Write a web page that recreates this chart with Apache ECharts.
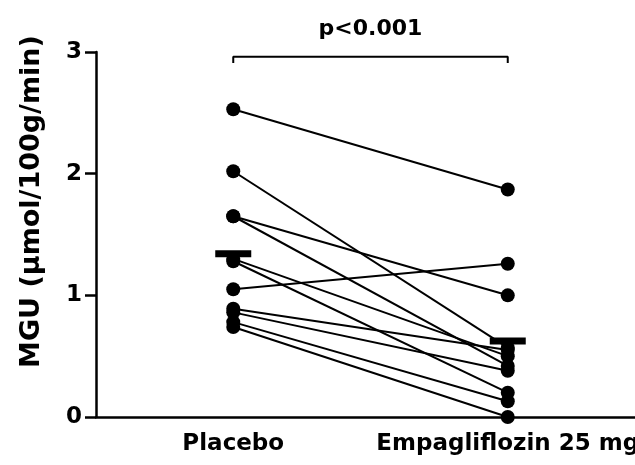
<!DOCTYPE html>
<html>
<head>
<meta charset="utf-8">
<script src="https://cdn.jsdelivr.net/npm/echarts@6/dist/echarts.min.js"></script>
<style>
  html, body { margin: 0; padding: 0; background: #fff; overflow: hidden; }
  #chart { width: 645px; height: 465px; }
</style>
</head>
<body>
<div id="chart"></div>
<script>
// Treatment groups (x categories)
const groups = ['Placebo', 'Empagliflozin 25 mg'];
// Paired MGU values per subject (µmol/100g/min)
const placebo       = [2.53, 2.02, 1.65, 1.65, 1.30, 1.28, 1.05, 0.89, 0.86, 0.78, 0.74];
const empagliflozin = [1.87, 0.57, 1.00, 0.42, 0.50, 0.20, 1.26, 0.55, 0.38, 0.13, 0.00];
// Y axis ticks
const yTicks = [0, 1, 2, 3];
// Significance bracket
const pLabel = 'p<0.001';
const bracketLevel = 2.96;
const bracketFoot = 2.91;
const yName = 'MGU (µmol/100g/min)';

const FONT = 'DejaVu Sans';
const mean = arr => arr.reduce((s, v) => s + v, 0) / arr.length;

const subjectSeries = placebo.map((p, i) => ({
  type: 'line',
  data: [[groups[0], p], [groups[1], empagliflozin[i]]],
  symbol: 'circle',
  symbolSize: 14,
  itemStyle: { color: '#000' },
  lineStyle: { color: '#000', width: 2 },
  z: 3,
  silent: true
}));

const chart = echarts.init(document.getElementById('chart'), null, { renderer: 'canvas' });

chart.setOption({
  animation: false,
  backgroundColor: '#fff',
  grid: { left: 96, right: 0, top: 52, bottom: 48, containLabel: false },
  xAxis: {
    type: 'category',
    data: groups,
    boundaryGap: true,
    axisLine: { lineStyle: { color: '#000', width: 2.5 } },
    axisTick: { alignWithLabel: true, length: 11, lineStyle: { color: '#000', width: 2.5 } },
    axisLabel: {
      color: '#000', fontFamily: FONT, fontWeight: 'bold', fontSize: 23,
      margin: 16, interval: 0
    },
    splitLine: { show: false }
  },
  yAxis: {
    type: 'value',
    min: yTicks[0],
    max: yTicks[yTicks.length - 1],
    interval: 1,
    axisLine: { show: true, lineStyle: { color: '#000', width: 2.5 } },
    axisTick: { show: true, length: 11, lineStyle: { color: '#000', width: 2.5 } },
    axisLabel: {
      color: '#000', fontFamily: FONT, fontWeight: 'bold', fontSize: 23, margin: 14
    },
    splitLine: { show: false }
  },
  series: [
    ...subjectSeries,
    {
      // group means
      type: 'scatter',
      data: [[groups[0], mean(placebo)], [groups[1], mean(empagliflozin)]],
      symbol: 'rect',
      symbolSize: [36, 7],
      itemStyle: { color: '#000', opacity: 1 },
      z: 10,
      silent: true
    },
    {
      // significance bracket
      type: 'line',
      data: [[groups[0], bracketFoot], [groups[0], bracketLevel],
             [groups[1], bracketLevel], [groups[1], bracketFoot]],
      symbol: 'none',
      lineStyle: { color: '#000', width: 2 },
      clip: false,
      silent: true
    }
  ]
});

const left = chart.convertToPixel({ gridIndex: 0 }, [groups[0], bracketLevel]);
const right = chart.convertToPixel({ gridIndex: 0 }, [groups[1], bracketLevel]);
const axisTop = chart.convertToPixel({ gridIndex: 0 }, [groups[0], yTicks[yTicks.length - 1]]);
const axisBottom = chart.convertToPixel({ gridIndex: 0 }, [groups[0], yTicks[0]]);

chart.setOption({
  graphic: [
    {
      type: 'text',
      x: (left[0] + right[0]) / 2,
      y: left[1] - 28,
      style: {
        text: pLabel, fill: '#000', fontFamily: FONT, fontWeight: 'bold', fontSize: 22,
        textAlign: 'center', textVerticalAlign: 'middle'
      }
    },
    {
      type: 'text',
      x: 32,
      y: (axisTop[1] + axisBottom[1]) / 2 - 33,
      rotation: Math.PI / 2,
      style: {
        text: yName, fill: '#000', fontFamily: FONT, fontWeight: 'bold', fontSize: 27,
        textAlign: 'center', textVerticalAlign: 'middle'
      }
    }
  ]
});
</script>
</body>
</html>
